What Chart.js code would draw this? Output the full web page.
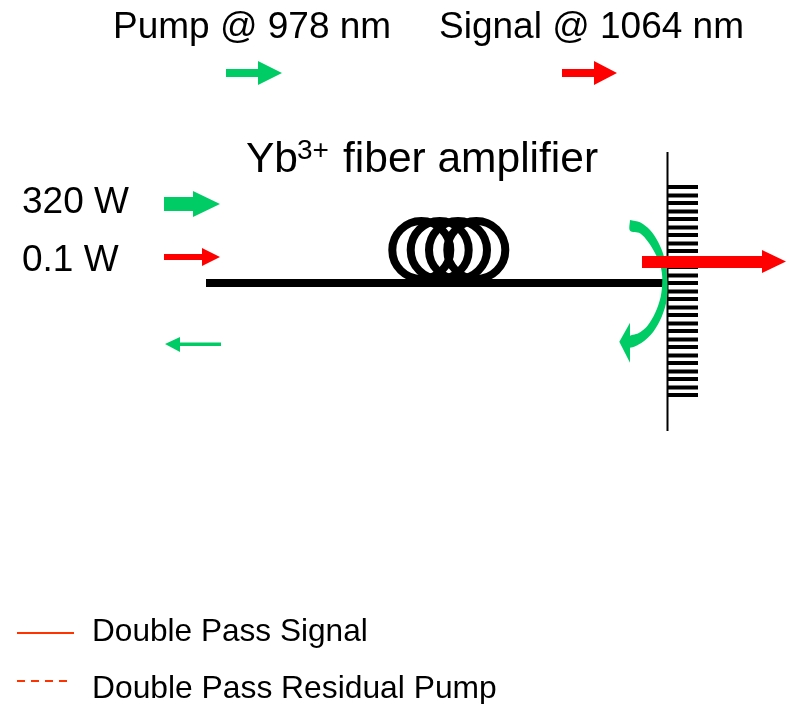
<!DOCTYPE html>
<html>
<head>
<meta charset="utf-8">
<title>Yb fiber amplifier</title>
<script src="https://cdn.jsdelivr.net/npm/chart.js@4/dist/chart.umd.min.js"></script>
<style>
  html, body { margin: 0; padding: 0; background: #fff; }
  canvas { display: block; }
</style>
</head>
<body>
<canvas id="diagram" width="789" height="704"></canvas>
<script>
  const GREEN = "#00CC66";
  const RED = "#FF0000";
  const ORANGE = "#FF3300";

  /* ---------- DATA (x / y in picture units) ---------- */

  const pumpKeyArrow = [[226,69],[258,69],[258,61],[282,73],[258,85],[258,77],[226,77],[226,69]];
  const signalKeyArrow = [[562,69],[594,69],[594,61],[617,73],[594,85],[594,77],[562,77],[562,69]];
  const pumpInArrow = [[164,197],[193,197],[193,191],[220,204],[193,217],[193,211],[164,211],[164,197]];
  const signalInArrow = [[164,254],[202,254],[202,248],[220,257],[202,266],[202,260],[164,260],[164,254]];
  const pumpBackArrow = [[221,342.5],[180,342.5],[180,337],[165,344],[180,352],[180,346],[221,346],[221,342.5]];
  const signalOutArrow = [[642,256],[762,256],[762,250],[786,261.5],[762,273],[762,268],[642,268],[642,256]];
  const reflectedPumpBody = [
    [630,220],[640,222.3],[650,230],[658,241.7],[664,256.7],[667.3,280],[666.7,300],[661.7,316.7],
    [653.3,331.7],[641.7,342.7],[629,347.5],[629,336.7],[638.3,333.3],[646.7,326.7],[655,313.3],
    [660.7,296.7],[662.3,280],[660.7,266.7],[655,253],[648,241.7],[640,233.3],[630,230.7],[630,220]
  ];
  const reflectedPumpHead = [[630,322.7],[619.3,341.7],[630,362.7],[630,322.7]];

  const fiberLine = [[206,283],[663,283]];
  const coilCentersX = [421.3,439.7,458,476.3];
  const coilCenterY = 250;
  const gratingAxis = [[667.5,152],[667.5,431]];
  const gratingToothX = [668,698];
  const gratingToothY = [
    187,195.5,203,211.5,219,227.5,235,243.5,251,259.5,267,275.5,283,291.5,
    299,307.5,315,323.5,331,339.5,347,355.5,363,371.5,379,387.5,395
  ];

  const legendSolid = [[17,633],[74,633]];
  const legendDashed = [[17,681],[67,681]];

  const labelTexts = [
    "Pump @ 978 nm", "Signal @ 1064 nm", "320 W", "0.1 W",
    "Yb", "3+", "fiber amplifier",
    "Double Pass Signal", "Double Pass Residual Pump"
  ];
  const labelX = [113,439,22,22,246,297,343,92,92];
  const labelY = [38,38,213,271,172,159,172,641,698];
  const labelSize = [37,37,37,37,42.5,28,42.5,31.6,31.8];

  /* ---------- HELPERS ---------- */

  const toPoints = list => list.map(p => ({ x: p[0], y: p[1] }));

  function shape(list, color, tension) {
    return {
      data: toPoints(list),
      showLine: true,
      fill: "shape",
      tension: tension || 0,
      backgroundColor: color,
      borderWidth: 0,
      pointRadius: 0
    };
  }

  function stroke(points, color, width, dash) {
    return {
      data: points,
      showLine: true,
      fill: false,
      borderColor: color,
      borderWidth: width,
      borderDash: dash || [],
      pointRadius: 0
    };
  }

  function toothPoints() {
    const pts = [];
    gratingToothY.forEach(y => {
      pts.push({ x: gratingToothX[0], y }, { x: gratingToothX[1], y }, { x: null, y: null });
    });
    return pts;
  }

  /* text goes through the same scales as the marks */
  const labelsPlugin = {
    id: "diagramLabels",
    afterDatasetsDraw(chart) {
      const { ctx, scales } = chart;
      ctx.save();
      ctx.fillStyle = "#000";
      ctx.textAlign = "left";
      ctx.textBaseline = "alphabetic";
      labelTexts.forEach((text, i) => {
        ctx.font = `${labelSize[i]}px "Liberation Sans", Arial, sans-serif`;
        ctx.fillText(text, scales.x.getPixelForValue(labelX[i]), scales.y.getPixelForValue(labelY[i]));
      });
      ctx.restore();
    }
  };

  /* ---------- CHART (first dataset ends up on top) ---------- */

  new Chart(document.getElementById("diagram"), {
    type: "scatter",
    data: {
      datasets: [
        shape(signalOutArrow, RED),
        shape(reflectedPumpHead, GREEN),
        shape(reflectedPumpBody, GREEN, 0.3),
        stroke(toPoints(gratingAxis), "#000", 2),
        stroke(toothPoints(), "#000", 4),
        {
          data: coilCentersX.map(x => ({ x, y: coilCenterY })),
          pointRadius: 29,
          pointBorderWidth: 8,
          pointBorderColor: "#000",
          pointBackgroundColor: "transparent"
        },
        stroke(toPoints(fiberLine), "#000", 8),
        shape(pumpKeyArrow, GREEN),
        shape(signalKeyArrow, RED),
        shape(pumpInArrow, GREEN),
        shape(signalInArrow, RED),
        shape(pumpBackArrow, GREEN),
        stroke(toPoints(legendSolid), ORANGE, 2),
        stroke(toPoints(legendDashed), ORANGE, 2, [8, 6])
      ]
    },
    options: {
      responsive: false,
      animation: false,
      layout: { padding: 0, autoPadding: false },
      plugins: { legend: { display: false }, tooltip: { enabled: false } },
      scales: {
        x: { type: "linear", display: false, min: 0, max: 789 },
        y: { type: "linear", display: false, min: 0, max: 704, reverse: true }
      }
    },
    plugins: [labelsPlugin]
  });
</script>
</body>
</html>
